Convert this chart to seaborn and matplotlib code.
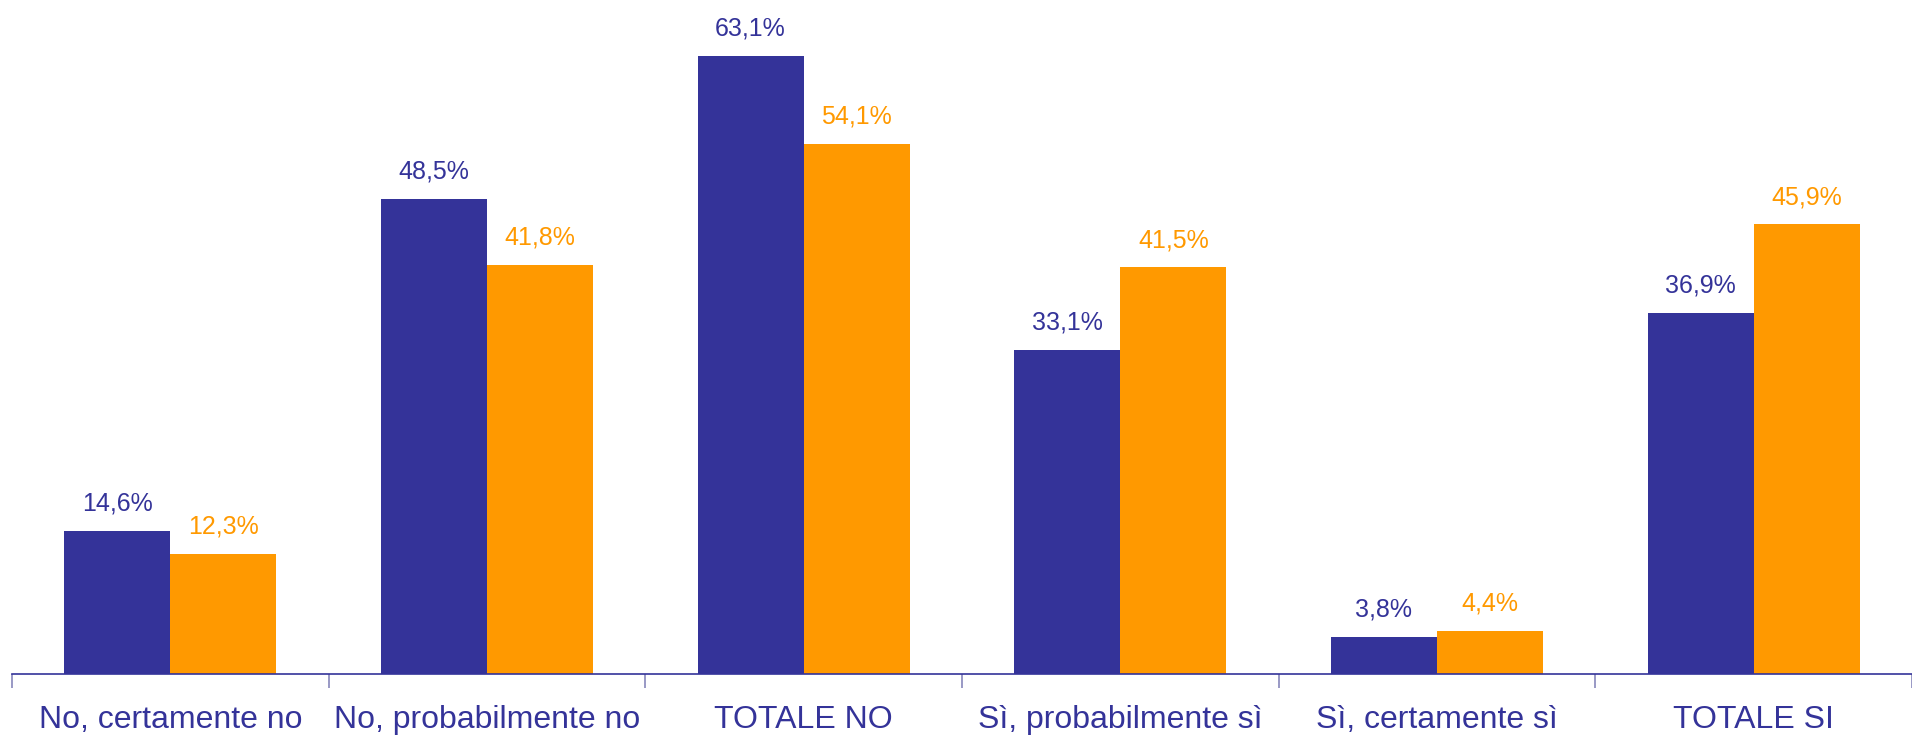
import pandas as pd
import matplotlib
matplotlib.use("Agg")
import matplotlib.pyplot as plt
import seaborn as sns

categories = ["No, certamente no", "No, probabilmente no", "TOTALE NO",
              "Sì, probabilmente sì", "Sì, certamente sì", "TOTALE SI"]
serie_a = [14.6, 48.5, 63.1, 33.1, 3.8, 36.9]
serie_b = [12.3, 41.8, 54.1, 41.5, 4.4, 45.9]
series_names = ["Serie A", "Serie B"]

blue = "#343399"
orange = "#FF9900"

df = pd.DataFrame({
    "categoria": categories * 2,
    "valore": serie_a + serie_b,
    "serie": [series_names[0]] * len(categories) + [series_names[1]] * len(categories),
})

sns.set_style("white")
plt.rcParams["font.family"] = ["Liberation Sans", "DejaVu Sans"]

fig = plt.figure(figsize=(19.12, 7.44), dpi=100)
ax = fig.add_axes([12 / 1912, 70 / 744, 1 - 12 / 1912, 674 / 744])

sns.barplot(data=df, x="categoria", y="valore", hue="serie",
            palette=[blue, orange], width=0.67, saturation=1,
            linewidth=0, legend=False, ax=ax)

ax.set_xlim(-0.5, 5.5)
ax.set_ylim(0, 68.8)

# value labels
for cont, col in zip(ax.containers, [blue, orange]):
    labels = [f"{v:.1f}%".replace(".", ",") for v in cont.datavalues]
    ax.bar_label(cont, labels=labels, padding=11, color=col, fontsize=18)

for s in ["top", "right", "left"]:
    ax.spines[s].set_visible(False)
ax.spines["bottom"].set_color(blue)
ax.spines["bottom"].set_linewidth(1.2)

ax.set_yticks([])
ax.set_xlabel("")
ax.set_ylabel("")
ax.set_xticks(range(len(categories)))
ax.set_xticklabels(categories, fontsize=23, color=blue)
ax.tick_params(axis="x", which="major", length=0, pad=22)
ax.set_xticks([i - 0.5 for i in range(len(categories) + 1)], minor=True)
ax.tick_params(axis="x", which="minor", bottom=True, length=10,
               color="#8888bb", width=1.2, direction="out")

fig.savefig("out.png", dpi=100)
